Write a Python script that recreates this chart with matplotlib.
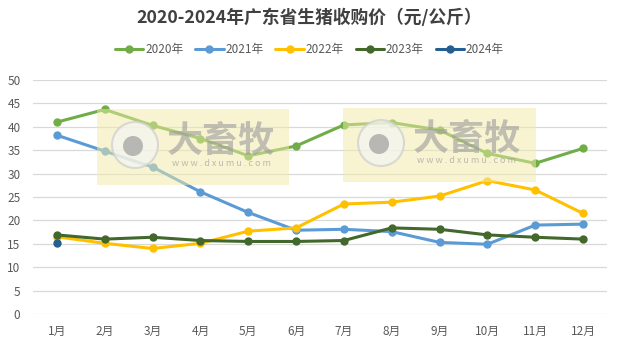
import matplotlib
matplotlib.use("Agg")
import matplotlib.pyplot as plt
from matplotlib.patches import Rectangle, Ellipse

plt.rcParams['font.family'] = ['Noto Sans CJK SC', 'DejaVu Sans']

months = ["1月", "2月", "3月", "4月", "5月", "6月", "7月", "8月", "9月", "10月", "11月", "12月"]
y2020 = [41.0, 43.7, 40.3, 37.5, 33.8, 35.9, 40.4, 40.9, 39.3, 34.3, 32.2, 35.4]
y2021 = [38.2, 34.8, 31.4, 26.1, 21.7, 17.9, 18.1, 17.6, 15.3, 14.9, 19.0, 19.2]
y2022 = [16.5, 15.1, 14.0, 15.1, 17.7, 18.4, 23.5, 23.9, 25.2, 28.5, 26.5, 21.5]
y2023 = [16.9, 16.0, 16.4, 15.7, 15.5, 15.5, 15.7, 18.4, 18.1, 16.9, 16.4, 16.0]
y2024 = [15.1]

series = [
    ("2020年", y2020, "#70AD47"),
    ("2021年", y2021, "#5B9BD5"),
    ("2022年", y2022, "#FFC000"),
    ("2023年", y2023, "#43682B"),
    ("2024年", y2024, "#255E91"),
]

W, H = 619, 347
fig = plt.figure(figsize=(W / 100, H / 100), dpi=100)
ax = fig.add_axes([33 / W, 1 - 314 / H, (607 - 33) / W, (314 - 80) / H])

x = list(range(1, 13))
for name, vals, col in series:
    ax.plot(x[:len(vals)], vals, color=col, lw=2.2, marker="o", ms=5,
            label=name, solid_capstyle="round", zorder=3)

ax.set_xlim(0.5, 12.5)
ax.set_ylim(0, 50)
ax.set_yticks(range(0, 51, 5))
ax.set_xticks(x)
ax.set_xticklabels(months)
ax.grid(axis="y", color="#D9D9D9", lw=0.9)
ax.set_axisbelow(True)
for s in ax.spines.values():
    s.set_visible(False)
ax.tick_params(length=0, labelsize=8.5, colors="#595959")
ax.tick_params(axis="y", pad=9)
ax.tick_params(axis="x", pad=8)

fig.text(0.5, 1 - 18 / H, "2020-2024年广东省生猪收购价（元/公斤）", ha="center", va="center",
         fontsize=12.8, fontweight="bold", color="#404040")
fig.legend(loc="center", bbox_to_anchor=(0.5, 1 - 50 / H), ncol=5, frameon=False,
           fontsize=8.5, handlelength=2.4, handletextpad=0.15, columnspacing=1.0,
           labelcolor="#595959")

# site watermark panels
def watermark(x0, y0, x1, y1):
    fw, fh = (x1 - x0) / W, (y1 - y0) / H
    fx, fy = x0 / W, 1 - y1 / H
    fig.patches.append(Rectangle((fx, fy), fw, fh, transform=fig.transFigure,
                                 facecolor="#F2EBA6", alpha=0.5, edgecolor="none", zorder=5))
    cx, cy = x0 + 38, (y0 + y1) / 2 - 2
    fig.patches.append(Ellipse((cx / W, 1 - cy / H), 46 / W, 46 / H, transform=fig.transFigure,
                               facecolor="#F4F4F0", edgecolor="#CFCFCF", lw=1.5, alpha=0.75, zorder=6))
    fig.patches.append(Ellipse(((cx - 2) / W, 1 - (cy + 1) / H), 20 / W, 20 / H,
                               transform=fig.transFigure,
                               facecolor="#A8A8A8", edgecolor="none", alpha=0.8, zorder=7))
    fig.text((x0 + 124) / W, 1 - (cy - 4) / H, "大畜牧", ha="center", va="center",
             fontsize=26, fontweight="bold", color="#9A9A9A", alpha=0.6, zorder=8)
    fig.text((x0 + 124) / W, 1 - (cy + 18) / H, "w w w . d x u m u . c o m", ha="center",
             va="center", fontsize=6.5, color="#A0A0A0", alpha=0.7, zorder=8)

watermark(97, 109, 289, 185)
watermark(343, 108, 536, 182)

fig.savefig("out.png", dpi=100, facecolor="white")
